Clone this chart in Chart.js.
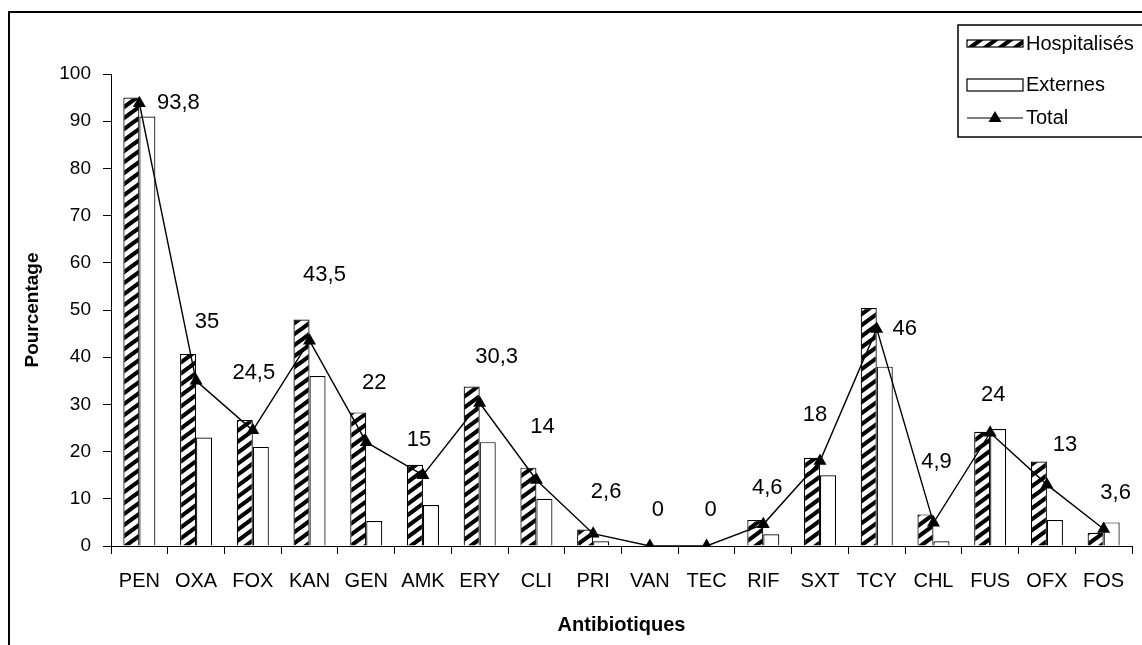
<!DOCTYPE html>
<html>
<head>
<meta charset="utf-8">
<script src="https://cdn.jsdelivr.net/npm/chart.js@4/dist/chart.umd.min.js"></script>
<style>
  html, body { margin: 0; padding: 0; background: #fff; }
  #wrap { width: 1142px; height: 645px; position: relative; }
</style>
</head>
<body>
<div id="wrap"><canvas id="chart" width="1142" height="645"></canvas></div>
<script>
var antibiotiques = ['PEN', 'OXA', 'FOX', 'KAN', 'GEN', 'AMK', 'ERY', 'CLI', 'PRI',
                     'VAN', 'TEC', 'RIF', 'SXT', 'TCY', 'CHL', 'FUS', 'OFX', 'FOS'];
var hospitalises = [95, 40.7, 26.7, 48, 28.3, 17.2, 33.8, 16.6, 3.5, 0, 0, 5.5, 18.7, 50.4, 6.7, 24.2, 17.9, 2.8];
var externes = [91, 23, 21, 36, 5.3, 8.7, 22, 10, 1, 0, 0, 2.5, 15, 38, 1, 24.8, 5.5, 5];
var total = [93.8, 35, 24.5, 43.5, 22, 15, 30.3, 14, 2.6, 0, 0, 4.6, 18, 46, 4.9, 24, 13, 3.6];
var yTicks = [0, 10, 20, 30, 40, 50, 60, 70, 80, 90, 100];

// where each value label sits, relative to its point (dx, dy)
var labelOffsets = [[39, 0], [11, -59], [1, -57], [15, -66], [8, -59], [-4, -35], [17, -46], [6, -53], [13, -42],
                    [8, -36], [4, -36], [4, -36], [-5, -46], [28, 0], [3, -61], [3, -38], [18, -40], [12, -36]];

var FONT = "'Liberation Sans', Arial, sans-serif";

function hatch()
{
  var w = 15, h = 11;
  var c = document.createElement('canvas');
  c.width = w; c.height = h;
  var g = c.getContext('2d');
  g.fillStyle = '#fff';
  g.fillRect(0, 0, w, h);
  g.strokeStyle = '#000';
  g.lineWidth = 4.2;
  g.beginPath();
  for (var k = -1; k <= 1; k++) {
    g.moveTo(-w, 2 * h + k * h);
    g.lineTo(2 * w, -h + k * h);
  }
  g.stroke();
  return g.createPattern(c, 'repeat');
}
var stripes = hatch();

var framePlugin = {
  id: 'frame',
  beforeDraw: function(chart) {
    var ctx = chart.ctx;
    ctx.save();
    ctx.fillStyle = '#fff';
    ctx.fillRect(0, 0, chart.width, chart.height);
    ctx.strokeStyle = '#000';
    ctx.lineWidth = 2;
    ctx.beginPath();
    ctx.moveTo(9, 645);
    ctx.lineTo(9, 12);
    ctx.lineTo(1142, 12);
    ctx.stroke();
    ctx.restore();
  }
};

var valueLabels = {
  id: 'valueLabels',
  afterDatasetsDraw: function(chart) {
    var ctx = chart.ctx;
    var meta = chart.getDatasetMeta(2);
    ctx.save();
    ctx.fillStyle = '#000';
    ctx.font = '22px ' + FONT;
    ctx.textAlign = 'center';
    ctx.textBaseline = 'middle';
    meta.data.forEach(function(pt, i) {
      var txt = String(total[i]).replace('.', ',');
      ctx.fillText(txt, pt.x + labelOffsets[i][0], pt.y + labelOffsets[i][1]);
    });
    ctx.restore();
  }
};

var legendBox = {
  id: 'legendBox',
  afterDraw: function(chart) {
    var ctx = chart.ctx;
    var ds = chart.data.datasets;
    ctx.save();
    ctx.fillStyle = '#fff';
    ctx.fillRect(958, 25, 184, 112);
    ctx.strokeStyle = '#000';
    ctx.lineWidth = 1.5;
    ctx.strokeRect(958, 25, 190, 112);

    ctx.lineWidth = 1.2;
    ctx.fillStyle = stripes;
    ctx.fillRect(967, 40, 56, 7);
    ctx.strokeRect(967, 40, 56, 7);

    ctx.fillStyle = '#fff';
    ctx.fillRect(967, 79, 56, 12);
    ctx.strokeRect(967, 79, 56, 12);

    ctx.beginPath();
    ctx.moveTo(967, 118); ctx.lineTo(1023, 118);
    ctx.stroke();
    ctx.fillStyle = '#000';
    ctx.beginPath();
    ctx.moveTo(995, 111); ctx.lineTo(1001.5, 122); ctx.lineTo(988.5, 122);
    ctx.closePath();
    ctx.fill();

    ctx.font = '20px ' + FONT;
    ctx.textAlign = 'left';
    ctx.textBaseline = 'middle';
    ctx.fillText(ds[0].label, 1026, 44);
    ctx.fillText(ds[1].label, 1026, 85);
    ctx.fillText(ds[2].label, 1026, 118);
    ctx.restore();
  }
};

new Chart(document.getElementById('chart'), {
  type: 'bar',
  data: {
    labels: antibiotiques,
    datasets: [
      {
        label: 'Hospitalisés',
        data: hospitalises,
        backgroundColor: stripes,
        borderColor: '#000',
        borderWidth: 1.2,
        categoryPercentage: 0.565,
        barPercentage: 1,
        order: 1
      },
      {
        label: 'Externes',
        data: externes,
        backgroundColor: '#fff',
        borderColor: '#000',
        borderWidth: 1.2,
        categoryPercentage: 0.565,
        barPercentage: 1,
        order: 1
      },
      {
        type: 'line',
        label: 'Total',
        data: total,
        borderColor: '#000',
        borderWidth: 1.4,
        backgroundColor: '#000',
        pointStyle: 'triangle',
        pointRadius: 7.5,
        pointBorderWidth: 0,
        tension: 0,
        order: 0
      }
    ]
  },
  options: {
    responsive: false,
    animation: false,
    layout: { padding: { top: 74, right: 10, left: 0, bottom: 0 } },
    plugins: {
      legend: { display: false },
      tooltip: { enabled: false }
    },
    scales: {
      x: {
        offset: true,
        grid: { offset: true, drawOnChartArea: false, drawTicks: true, tickLength: 8, color: '#000', lineWidth: 1 },
        border: { display: true, color: '#000', width: 1 },
        ticks: { color: '#000', font: { family: FONT, size: 20 }, padding: 15, maxRotation: 0, autoSkip: false },
        title: { display: true, text: 'Antibiotiques', color: '#000', font: { family: FONT, size: 20, weight: 'bold' }, padding: { top: 0, bottom: 8 } },
        afterFit: function(scale) { scale.height = 99; }
      },
      y: {
        min: 0,
        max: 100,
        afterBuildTicks: function(scale) { scale.ticks = yTicks.map(function(v) { return { value: v }; }); },
        grid: { drawOnChartArea: false, drawTicks: true, tickLength: 8, color: '#000', lineWidth: 1 },
        border: { display: true, color: '#000', width: 1 },
        ticks: { color: '#000', font: { family: FONT, size: 19 }, padding: 12 },
        title: { display: true, text: 'Pourcentage', color: '#000', font: { family: FONT, size: 19, weight: 'bold' }, padding: { top: 21, bottom: 0 } },
        afterFit: function(scale) { scale.width = 111; }
      }
    }
  },
  plugins: [framePlugin, valueLabels, legendBox]
});
</script>
</body>
</html>
